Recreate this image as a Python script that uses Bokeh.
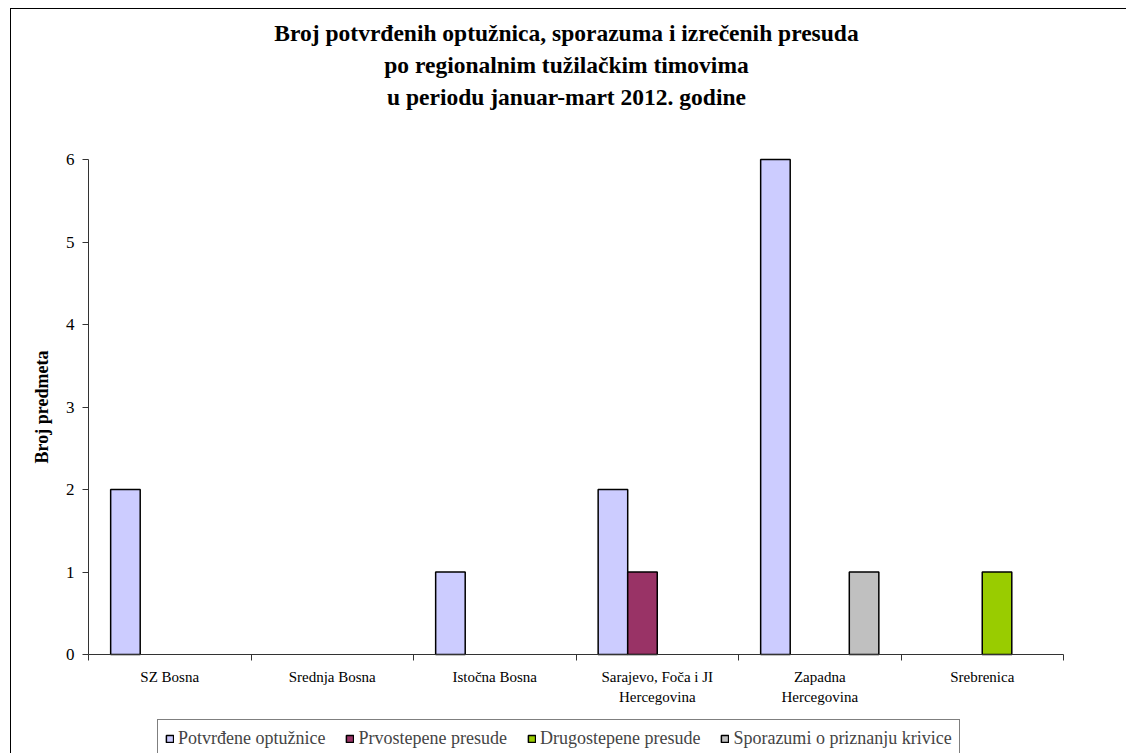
import math
from bokeh.plotting import figure
from bokeh.models import ColumnDataSource, FixedTicker, Legend, LegendItem, Label
from bokeh.embed import file_html
from bokeh.resources import INLINE

# ---- data ----
categories = ["SZ Bosna", "Srednja Bosna", "Istočna Bosna",
              "Sarajevo, Foča i JI\nHercegovina", "Zapadna\nHercegovina", "Srebrenica"]
series_names = ["Potvrđene optužnice", "Prvostepene presude",
                "Drugostepene presude", "Sporazumi o priznanju krivice"]
potvrdjene = [2, 0, 1, 2, 6, 0]
prvostepene = [0, 0, 0, 1, 0, 0]
drugostepene = [0, 0, 0, 0, 0, 1]
sporazumi = [0, 0, 0, 0, 1, 0]
series_values = [potvrdjene, prvostepene, drugostepene, sporazumi]
colors = ["#CCCCFF", "#993366", "#99CC00", "#C0C0C0"]
y_ticks = [0, 1, 2, 3, 4, 5, 6]
y_title = "Broj predmeta"
title_lines = ["Broj potvrđenih optužnica, sporazuma i izrečenih presuda",
               "po regionalnim tužilačkim timovima",
               "u periodu januar-mart 2012. godine"]

SERIF = "Liberation Serif"

# ---- layout (page pixels) ----
OX, OY = 10, 8             # chart-area border offset
W, H = 1126, 753
AX_L, AX_R = 87, 1062      # x-axis extent
Y0_PX, YMAX_PX = 653, 158  # pixel rows of value 0 and value 6
ymax = max(y_ticks)
ncat = len(categories)
ppu = (Y0_PX - YMAX_PX) / ymax
ppx = (AX_R - AX_L) / ncat
y_start = -(H - Y0_PX) / ppu
y_end = ymax + (YMAX_PX - OY) / ppu
x_start = -(AX_L - OX) / ppx
x_end = ncat + (W - AX_R) / ppx

p = figure(width=W - OX, height=H - OY, x_range=(x_start, x_end), y_range=(y_start, y_end),
           output_backend="svg", toolbar_location=None, title=None,
           min_border_left=0, min_border_right=0, min_border_top=0, min_border_bottom=0)
p.margin = (OY, 0, 0, OX)
p.styles = {"border-top": "1px solid black", "border-left": "1px solid black"}
p.outline_line_color = None
p.xgrid.visible = False
p.ygrid.visible = False
p.background_fill_color = "white"
p.border_fill_color = "white"

# ---- title lines ----
title_x = (565 - AX_L) / ppx
for line, py in zip(title_lines, (31, 63, 95)):
    p.add_layout(Label(x=title_x, y=(Y0_PX - py) / ppu, text=line,
                       text_align="center", text_baseline="middle",
                       text_font=SERIF, text_font_size="23.5px",
                       text_font_style="bold", text_color="black"))

# ---- y-axis title ----
p.add_layout(Label(x=(40 - AX_L) / ppx, y=ymax / 2, text=y_title, angle=math.pi / 2,
                   text_align="center", text_baseline="middle",
                   text_font=SERIF, text_font_size="18px", text_font_style="bold",
                   text_color="black"))

# ---- bars ----
bw = 1 / 5.5
items = []
for i, (name, vals, col) in enumerate(zip(series_names, series_values, colors)):
    xs = [k + 0.5 + (i - 1.5) * bw for k, v in enumerate(vals) if v > 0]
    tops = [v for v in vals if v > 0]
    src = ColumnDataSource(dict(x=xs, top=tops))
    r = p.vbar(x="x", top="top", bottom=0, width=bw, source=src,
               fill_color=col, line_color="black", line_width=1.5)
    items.append(LegendItem(label=name, renderers=[r]))

# ---- x axis: labels at category centres, tick marks at boundaries ----
xa = p.xaxis[0]
xa.fixed_location = 0
xa.bounds = (0, ncat)
xa.ticker = FixedTicker(ticks=[k + 0.5 for k in range(ncat)],
                        minor_ticks=list(range(ncat + 1)))
xa.major_label_overrides = {k + 0.5: c for k, c in enumerate(categories)}
xa.major_tick_out = 0
xa.major_tick_in = 0
xa.minor_tick_out = 6
xa.minor_tick_in = 0
xa.minor_tick_line_color = "#333333"
xa.axis_line_color = "#333333"
xa.major_label_text_font = SERIF
xa.major_label_text_font_size = "15px"
xa.major_label_text_color = "black"
xa.major_label_text_line_height = 1.3
xa.major_label_standoff = 8

# ---- y axis ----
ya = p.yaxis[0]
ya.fixed_location = 0
ya.bounds = (0, ymax)
ya.ticker = FixedTicker(ticks=y_ticks, minor_ticks=[])
ya.major_tick_out = 6
ya.major_tick_in = 0
ya.major_tick_line_color = "#333333"
ya.axis_line_color = "#333333"
ya.major_label_text_font = SERIF
ya.major_label_text_font_size = "17px"
ya.major_label_text_color = "black"
ya.major_label_standoff = 8

# ---- legend ----
legend = Legend(items=items, orientation="horizontal", location=(156 - OX, -3),
                label_text_font=SERIF, label_text_font_size="18px",
                glyph_width=9, glyph_height=9, label_standoff=4, spacing=20,
                padding=7, margin=0, label_height=22,
                border_line_color="black", border_line_width=1,
                background_fill_color="white", background_fill_alpha=1)
p.add_layout(legend, "center")

open("out.html", "w").write(file_html(p, INLINE))
